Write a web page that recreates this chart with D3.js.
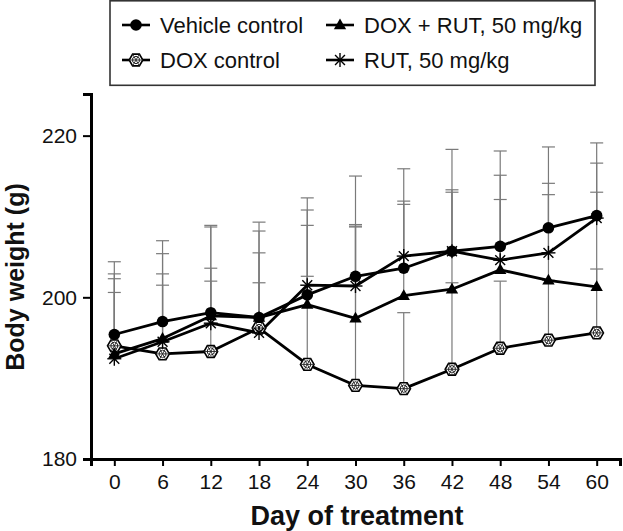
<!DOCTYPE html>
<html><head><meta charset="utf-8">
<script src="https://cdn.jsdelivr.net/npm/d3@7/dist/d3.min.js"></script>
<style>body{margin:0;background:#fff}svg{display:block}text{font-family:"Liberation Sans",Arial,sans-serif}</style>
</head><body>
<script>
const days = [0, 6, 12, 18, 24, 30, 36, 42, 48, 54, 60];
const seriesNames = ["Vehicle control", "DOX control", "DOX + RUT, 50 mg/kg", "RUT, 50 mg/kg"];
const vehicle    = [195.4, 197.0, 198.1, 197.5, 200.3, 202.6, 203.6, 205.7, 206.3, 208.6, 210.1];
const doxControl = [194.0, 193.0, 193.3, 196.2, 191.7, 189.1, 188.7, 191.1, 193.7, 194.7, 195.6];
const doxRut     = [193.0, 194.9, 197.7, 197.5, 199.1, 197.4, 200.2, 201.0, 203.4, 202.1, 201.3];
const rut        = [192.4, 194.5, 196.8, 195.6, 201.5, 201.4, 205.1, 205.7, 204.6, 205.5, 209.8];
const vehicleSD    = [9.0, 10.0, 10.8, 11.8, 12.0, 12.4, 12.3, 12.6, 11.8, 10.0, 9.0];
const doxControlSD = [8.9, 8.5, 8.7, 9.3, 17.2, 19.6, 9.4, 10.7, 8.3, 7.4, 7.9];
const doxRutSD     = [9.3, 10.5, 11.0, 10.7, 11.7, 11.4, 11.3, 12.0, 8.7, 10.6, 11.7];
const rutSD        = [8.2, 8.4, 6.8, 6.2, 1.1, 7.6, 6.8, 7.6, 10.5, 8.6, 6.8];
const yTicks = [180, 200, 220];
const xTicks = days;

const W = 623, H = 531;
const svg = d3.select("body").append("svg").attr("width", W).attr("height", H);

const x = d3.scaleLinear().domain([-2.9, 62.9]).range([91, 620]);
const y = d3.scaleLinear().domain([180, 225.15]).range([459, 94]);

const series = [
  {name: seriesNames[0], vals: vehicle, sd: vehicleSD, marker: "circle"},
  {name: seriesNames[1], vals: doxControl, sd: doxControlSD, marker: "hex"},
  {name: seriesNames[2], vals: doxRut, sd: doxRutSD, marker: "triangle"},
  {name: seriesNames[3], vals: rut, sd: rutSD, marker: "star"}
];

function drawMarker(g, type, cx, cy) {
  if (type === "circle") {
    g.append("circle").attr("cx", cx).attr("cy", cy).attr("r", 5.8).attr("fill", "#000");
  } else if (type === "triangle") {
    const s = 6.5;
    g.append("path").attr("d", `M${cx},${cy - s}L${cx + s * 0.95},${cy + s * 0.65}L${cx - s * 0.95},${cy + s * 0.65}Z`).attr("fill", "#000");
  } else if (type === "star") {
    const r = 7;
    for (let i = 0; i < 4; i++) {
      const a = i * Math.PI / 4;
      g.append("line").attr("x1", cx - r * Math.cos(a)).attr("y1", cy - r * Math.sin(a))
        .attr("x2", cx + r * Math.cos(a)).attr("y2", cy + r * Math.sin(a))
        .attr("stroke", "#000").attr("stroke-width", 1.4);
    }
  } else if (type === "hex") {
    const r = 6.8;
    const outer = d3.range(6).map(i => [cx + r * Math.cos(i * Math.PI / 3), cy + r * Math.sin(i * Math.PI / 3)]);
    g.append("path").attr("d", "M" + outer.join("L") + "Z").attr("fill", "#fff").attr("stroke", "#000").attr("stroke-width", 1.6);
    const pts = d3.range(6).map(i => [cx + 3.8 * Math.cos(i * Math.PI / 3 + Math.PI / 6), cy + 3.8 * Math.sin(i * Math.PI / 3 + Math.PI / 6)]);
    g.append("path").attr("d", "M" + pts.join("L") + "Z").attr("fill", "none").attr("stroke", "#222").attr("stroke-width", 1);
    for (let i = 0; i < 3; i++) {
      const a = i * Math.PI / 3;
      g.append("line").attr("x1", cx - r * Math.cos(a)).attr("y1", cy - r * Math.sin(a))
        .attr("x2", cx + r * Math.cos(a)).attr("y2", cy + r * Math.sin(a))
        .attr("stroke", "#222").attr("stroke-width", 0.9);
    }
  }
}

// Error bars
const eb = svg.append("g");
series.forEach(s => {
  s.vals.forEach((v, i) => {
    const cx = x(days[i]);
    eb.append("line").attr("x1", cx).attr("x2", cx).attr("y1", y(v)).attr("y2", y(v + s.sd[i]))
      .attr("stroke", "#7a7a7a").attr("stroke-width", 1.2);
    eb.append("line").attr("x1", cx - 6.5).attr("x2", cx + 6.5).attr("y1", y(v + s.sd[i])).attr("y2", y(v + s.sd[i]))
      .attr("stroke", "#7a7a7a").attr("stroke-width", 1.2);
  });
});

// Lines
const line = d3.line().x((d, i) => x(days[i])).y(d => y(d));
series.forEach(s => {
  svg.append("path").attr("d", line(s.vals)).attr("fill", "none").attr("stroke", "#000").attr("stroke-width", 2.8).attr("stroke-linejoin", "round");
});
// Markers
series.forEach(s => {
  const g = svg.append("g");
  s.vals.forEach((v, i) => drawMarker(g, s.marker, x(days[i]), y(v)));
});

// Axes
const xAxis = svg.append("g").attr("transform", "translate(0,459)")
  .call(d3.axisBottom(x).tickValues(xTicks).tickSizeOuter(0).tickSize(7).tickPadding(8));
xAxis.select(".domain").attr("stroke-width", 3);
xAxis.selectAll(".tick line").attr("stroke-width", 2);
xAxis.selectAll("text").attr("font-size", 21).attr("font-family", "Liberation Sans, Arial, sans-serif").attr("fill", "#111");

const yAxis = svg.append("g").attr("transform", "translate(91,0)")
  .call(d3.axisLeft(y).tickValues(yTicks).tickSizeOuter(0).tickSize(8).tickPadding(6));
yAxis.select(".domain").attr("stroke-width", 3);
yAxis.selectAll(".tick line").attr("stroke-width", 2);
yAxis.selectAll("text").attr("font-size", 21).attr("font-family", "Liberation Sans, Arial, sans-serif").attr("fill", "#111");

svg.append("text").attr("x", 357).attr("y", 525).attr("text-anchor", "middle")
  .attr("font-size", 27).attr("font-weight", "bold").attr("fill", "#111").text("Day of treatment");
svg.append("text").attr("transform", "translate(24,277) rotate(-90)").attr("text-anchor", "middle")
  .attr("font-size", 25).attr("font-weight", "bold").attr("fill", "#111").text("Body weight (g)");

// Legend
const lg = svg.append("g");
lg.append("rect").attr("x", 110).attr("y", 0.8).attr("width", 485).attr("height", 84.5)
  .attr("fill", "#fff").attr("stroke", "#333").attr("stroke-width", 1.6);
const legPos = [[122, 25], [122, 60], [326, 25], [326, 60]];
series.forEach((s, i) => {
  const [lx, ly] = legPos[i];
  lg.append("line").attr("x1", lx).attr("x2", lx + 28).attr("y1", ly).attr("y2", ly).attr("stroke", "#000").attr("stroke-width", 2.6);
  drawMarker(lg, s.marker, lx + 14, ly);
  lg.append("text").attr("x", lx + 38).attr("y", ly + 8).attr("font-size", 22).attr("fill", "#111").text(s.name);
});
</script>
</body></html>
